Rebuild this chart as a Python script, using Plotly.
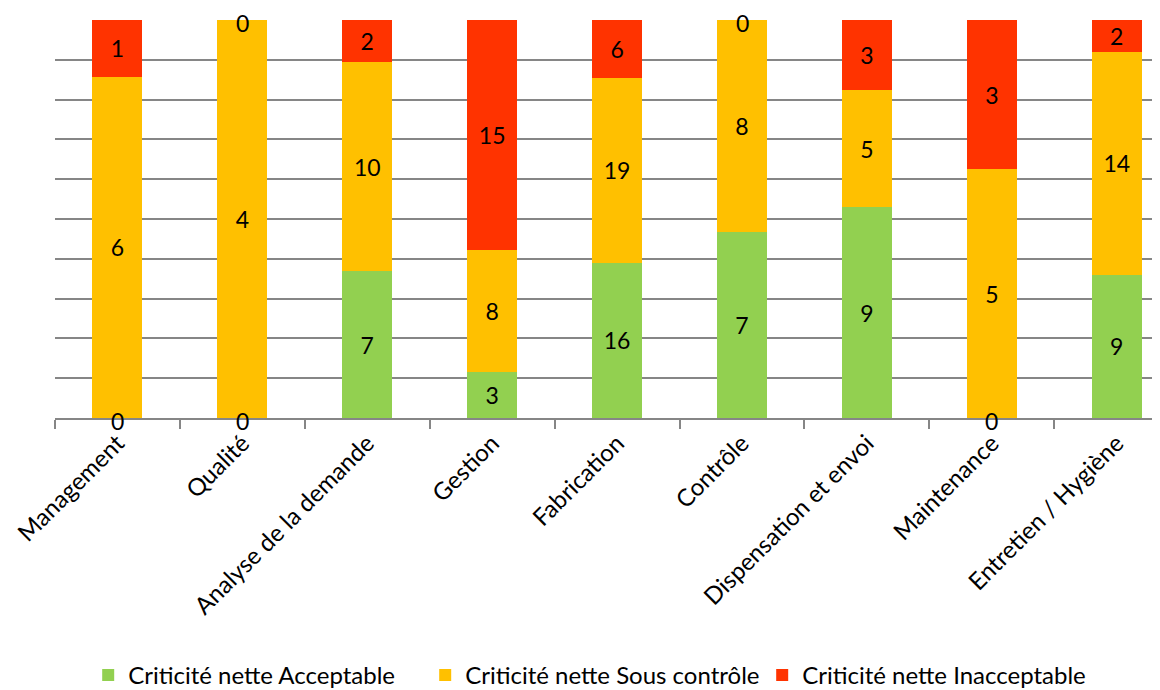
import plotly.graph_objects as go

categories = ["Management", "Qualité", "Analyse de la demande", "Gestion", "Fabrication",
              "Contrôle", "Dispensation et envoi", "Maintenance", "Entretien / Hygiène"]
acceptable = [0, 0, 7, 3, 16, 7, 9, 0, 9]
sous_controle = [6, 4, 10, 8, 19, 8, 5, 5, 14]
inacceptable = [1, 0, 2, 15, 6, 0, 3, 3, 2]

series = [
    ("Criticité nette Acceptable", acceptable, "#92D050"),
    ("Criticité nette Sous contrôle", sous_controle, "#FFC000"),
    ("Criticité nette Inacceptable", inacceptable, "#FF3300"),
]

FONT = "Lato"
LBL = 23
fig = go.Figure()
for name, vals, col in series:
    fig.add_trace(go.Bar(
        x=categories, y=vals, name=name, marker=dict(color=col, line=dict(width=0)),
        text=[str(v) if v != 0 else "" for v in vals],
        textposition="inside", insidetextanchor="middle", textangle=0,
        constraintext="none",
        textfont=dict(family=FONT, size=LBL, color="black"),
    ))

totals = [a + s + i for a, s, i in zip(acceptable, sous_controle, inacceptable)]
annotations = []
cum = [0] * len(categories)
for name, vals, col in series:
    for k, v in enumerate(vals):
        cum[k] += v
        if v == 0:
            annotations.append(dict(x=categories[k], y=cum[k] / totals[k] * 100,
                                    text="0", showarrow=False, yanchor="middle", yshift=-3,
                                    font=dict(family=FONT, size=LBL, color="black")))

fig.update_layout(
    width=1160, height=690,
    barmode="stack", barnorm="percent", bargap=0.6,
    plot_bgcolor="white", paper_bgcolor="white",
    margin=dict(l=47, r=0, t=12, b=280),
    font=dict(family=FONT, size=24, color="black"),
    annotations=annotations,
    legend=dict(orientation="h", x=0.484, xanchor="center", y=-0.648, yanchor="middle",
                font=dict(family=FONT, size=24), traceorder="normal", itemwidth=30,
                entrywidth=292),
    xaxis=dict(range=[-0.5, 8.41], showline=True, linecolor="#868686", linewidth=1.5,
               ticks="outside", tickson="boundaries", ticklen=9, tickcolor="#868686",
               tickwidth=1.5, tickangle=-45, tickfont=dict(family=FONT, size=24),
               automargin=False),
    yaxis=dict(range=[0, 100], dtick=10, showticklabels=False, showgrid=True,
               gridcolor="#868686", gridwidth=1.5, zeroline=False, showline=False,
               automargin=False),
)

fig.write_html("out.html")
